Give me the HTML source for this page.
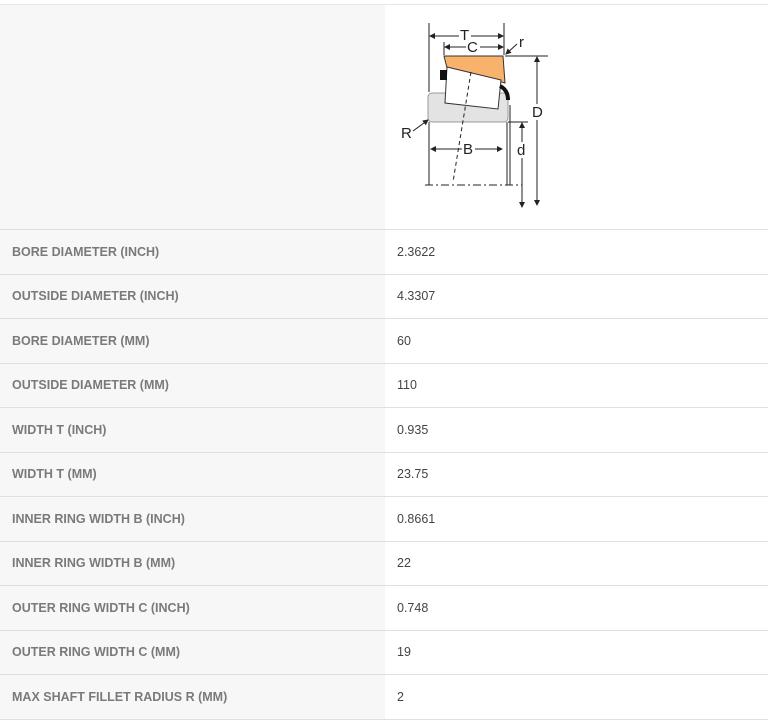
<!DOCTYPE html>
<html><head><style>
body{margin:0;width:768px;height:721px;background:#fff;font-family:"Liberation Sans",sans-serif;overflow:hidden}
.t{position:absolute;left:0;top:4px;width:768px;border-top:1px solid #e6e6e6}
.row{display:flex;border-bottom:1px solid #e0e0e0;height:43.5px;align-items:center}
.l{width:385px;background:#f7f7f7;height:100%;display:flex;align-items:center;padding-left:12px;box-sizing:border-box;color:#7a7a7a;font-weight:bold;font-size:12.5px}
.v{padding-left:12px;color:#444;font-size:12.5px}
.img{height:224px}
</style></head><body>
<div class="t">
<div class="row img"><div class="l"></div><div style="flex:1;height:100%;position:relative">
<svg width="383" height="224" style="position:absolute;left:0;top:0" viewBox="385 5 383 224" font-family="Liberation Sans,sans-serif" font-size="15" fill="#222">
<defs><marker id="a" markerWidth="6" markerHeight="6" refX="5" refY="3" orient="auto-start-reverse"><path d="M0 0L6 3L0 6z" fill="#222"/></marker></defs>
<g stroke="#222" stroke-width="1" fill="none">
<rect x="428" y="93" width="80" height="29" rx="4" fill="#e3e3e3" stroke="#999"/>
<polygon points="444,56 503,56 505,83 447,68" fill="#f9b26b" stroke="#333"/>
<polygon points="447,67 501,80 498,109 445,103" fill="#fff" stroke="#333"/>
<rect x="440" y="70" width="7" height="10" fill="#111" stroke="none"/>
<path d="M500 86 q8 4 8 14" stroke="#111" stroke-width="4"/>
<line x1="429" y1="23" x2="429" y2="92"/><line x1="504" y1="23" x2="504" y2="55"/>
<line x1="430" y1="36" x2="503" y2="36" marker-start="url(#a)" marker-end="url(#a)"/>
<line x1="445" y1="47" x2="503" y2="47" marker-start="url(#a)" marker-end="url(#a)"/>
<line x1="444" y1="42" x2="444" y2="55"/>
<line x1="505" y1="56" x2="548" y2="56"/><line x1="537" y1="57" x2="537" y2="205" marker-start="url(#a)" marker-end="url(#a)"/>
<line x1="508" y1="122" x2="528" y2="122"/><line x1="522" y1="123" x2="522" y2="207" marker-start="url(#a)" marker-end="url(#a)"/>
<line x1="431" y1="149" x2="502" y2="149" marker-start="url(#a)" marker-end="url(#a)"/>
<line x1="429" y1="122" x2="429" y2="185"/><line x1="507" y1="122" x2="507" y2="185"/><line x1="510" y1="105" x2="510" y2="185"/>
<line x1="425" y1="185" x2="522" y2="185" stroke-dasharray="8,3,2,3"/>
<line x1="471" y1="72" x2="453" y2="182" stroke-dasharray="4,3"/>
<line x1="517" y1="44" x2="506" y2="54" marker-end="url(#a)"/><line x1="413" y1="131" x2="428" y2="120" marker-end="url(#a)"/>
</g>
<g fill="#fff"><rect x="459" y="28" width="12" height="14"/><rect x="466" y="40" width="14" height="14"/><rect x="462" y="142" width="13" height="14"/><rect x="531" y="104" width="12" height="16"/><rect x="516" y="142" width="11" height="16"/></g>
<text x="460" y="40">T</text><text x="467" y="52">C</text><text x="519" y="47">r</text>
<text x="532" y="117">D</text><text x="517" y="155">d</text><text x="463" y="154">B</text><text x="401" y="138">R</text>
</svg></div></div>
<div class="row"><div class="l">BORE DIAMETER (INCH)</div><div class="v">2.3622</div></div>
<div class="row"><div class="l">OUTSIDE DIAMETER (INCH)</div><div class="v">4.3307</div></div>
<div class="row"><div class="l">BORE DIAMETER (MM)</div><div class="v">60</div></div>
<div class="row"><div class="l">OUTSIDE DIAMETER (MM)</div><div class="v">110</div></div>
<div class="row"><div class="l">WIDTH T (INCH)</div><div class="v">0.935</div></div>
<div class="row"><div class="l">WIDTH T (MM)</div><div class="v">23.75</div></div>
<div class="row"><div class="l">INNER RING WIDTH B (INCH)</div><div class="v">0.8661</div></div>
<div class="row"><div class="l">INNER RING WIDTH B (MM)</div><div class="v">22</div></div>
<div class="row"><div class="l">OUTER RING WIDTH C (INCH)</div><div class="v">0.748</div></div>
<div class="row"><div class="l">OUTER RING WIDTH C (MM)</div><div class="v">19</div></div>
<div class="row"><div class="l">MAX SHAFT FILLET RADIUS R (MM)</div><div class="v">2</div></div>
</div>
</body></html>
